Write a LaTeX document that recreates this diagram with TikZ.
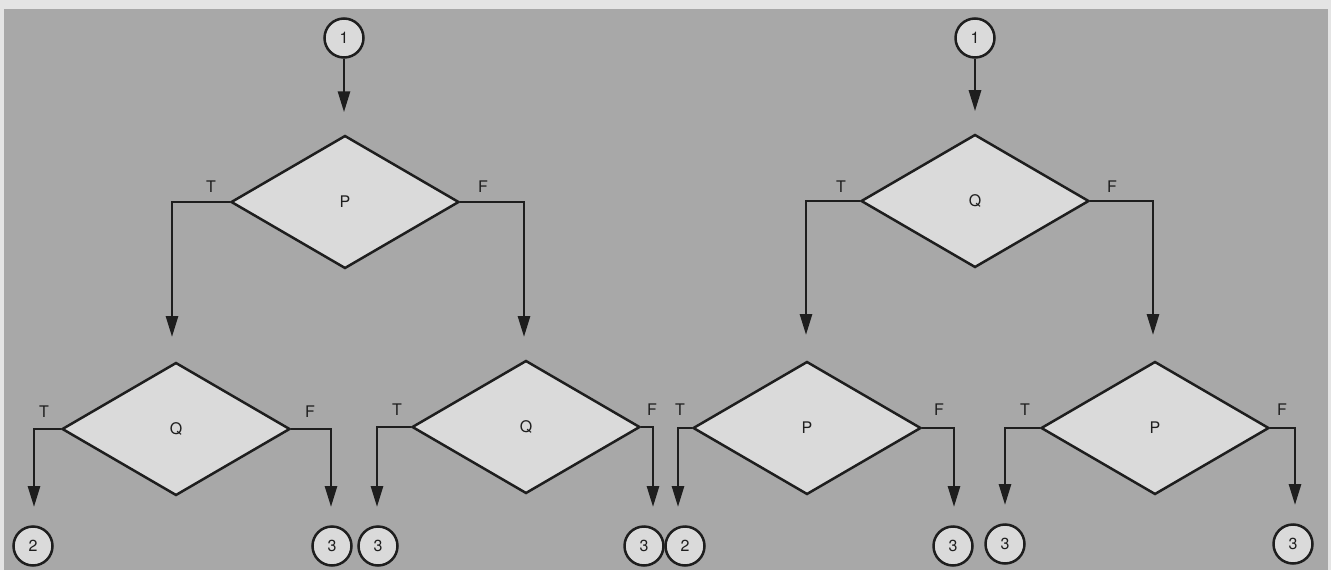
\documentclass[tikz,border=0pt]{standalone}
\usepackage{fontspec}
\setmainfont{TeX Gyre Heros}
\usetikzlibrary{shapes.geometric,arrows.meta}
\definecolor{outerc}{RGB}{228,228,228}
\definecolor{bgc}{RGB}{168,168,168}
\definecolor{boxc}{RGB}{218,218,218}
\definecolor{inkc}{RGB}{30,30,30}
\tikzset{
  dec/.style={diamond, draw=inkc, fill=boxc, line width=2.5pt, inner sep=0pt,
    minimum width=228pt, minimum height=133pt, text=inkc, font=\fontsize{16}{18}\selectfont},
  conn/.style={circle, draw=inkc, fill=boxc, line width=2.5pt, inner sep=0pt,
    minimum size=39pt, text=inkc, font=\fontsize{16}{18}\selectfont},
  lbl/.style={text=inkc, inner sep=0pt, font=\fontsize{16}{18}\selectfont},
  arr/.style={draw=inkc, line width=2.8pt, -{Triangle[length=21pt,width=12pt]}},
}
\begin{document}
\begin{tikzpicture}[x=1pt,y=-1pt]
\fill[outerc] (0,0) rectangle (1331,570);
\fill[bgc] (4,9) rectangle (1328,570);
\useasboundingbox (0,0) rectangle (1331,570);

% ---------- left group ----------
\node[conn] (oA) at (344,38) {1};
\node[dec] (PA) at (345,202) {P};
\node[lbl] (tA) at (211,187) {T};
\node[lbl] (fA) at (483,187) {F};
\draw[arr, shorten >=22pt] (oA) -- (oA |- PA.north);
\coordinate (eA1) at (172,337);
\coordinate (eA2) at (524,337);
\draw[arr] (PA.west) -| (eA1);
\draw[arr] (PA.east) -| (eA2);

\node[dec] (Q1) at (176,429) {Q};
\node[lbl] (t1) at (44,412) {T};
\node[lbl] (f1) at (310,412) {F};
\node[conn] (c12) at (33,546) {2};
\node[conn] (c13) at (332,546) {3};
\coordinate (e11) at (34,507);
\coordinate (e12) at (331,507);
\draw[arr] (Q1.west) -| (e11);
\draw[arr] (Q1.east) -| (e12);

\node[dec] (Q2) at (526,427) {Q};
\node[lbl] (t2) at (397,410) {T};
\node[lbl] (f2) at (652,410) {F};
\node[conn] (c23a) at (378,546) {3};
\node[conn] (c23b) at (644,546) {3};
\coordinate (e21) at (377,507);
\coordinate (e22) at (653,507);
\draw[arr] (Q2.west) -| (e21);
\draw[arr] (Q2.east) -| (e22);

% ---------- right group ----------
\node[conn] (oB) at (975,38) {1};
\node[dec] (QB) at (975,201) {Q};
\node[lbl] (tB) at (841,187) {T};
\node[lbl] (fB) at (1112,187) {F};
\draw[arr, shorten >=22pt] (oB) -- (QB);
\coordinate (eB1) at (806,335);
\coordinate (eB2) at (1153,335);
\draw[arr] (QB.west) -| (eB1);
\draw[arr] (QB.east) -| (eB2);

\node[dec] (P3) at (807,428) {P};
\node[lbl] (t3) at (680,410) {T};
\node[lbl] (f3) at (939,410) {F};
\node[conn] (c32) at (685,546) {2};
\node[conn] (c33) at (953,546) {3};
\coordinate (e31) at (678,507);
\coordinate (e32) at (954,507);
\draw[arr] (P3.west) -| (e31);
\draw[arr] (P3.east) -| (e32);

\node[dec] (P4) at (1155,428) {P};
\node[lbl] (t4) at (1025,410) {T};
\node[lbl] (f4) at (1282,410) {F};
\node[conn] (c43a) at (1005,544) {3};
\node[conn] (c43b) at (1293,544) {3};
\coordinate (e41) at (1005,505);
\coordinate (e42) at (1295,505);
\draw[arr] (P4.west) -| (e41);
\draw[arr] (P4.east) -| (e42);
\end{tikzpicture}
\end{document}
